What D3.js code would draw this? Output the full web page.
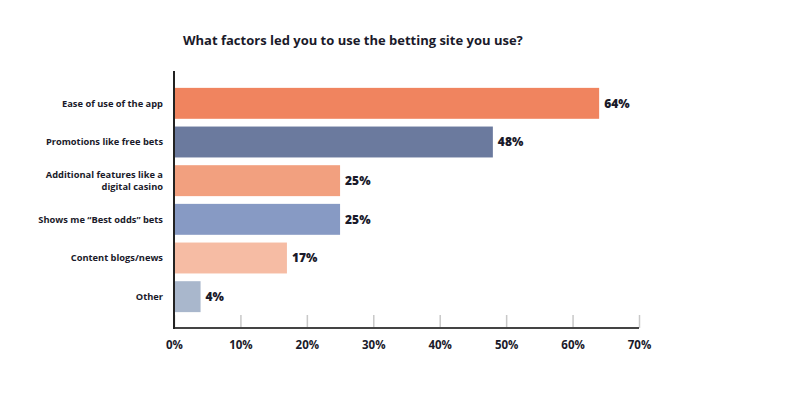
<!DOCTYPE html>
<html>
<head>
<meta charset="utf-8">
<script src="https://cdn.jsdelivr.net/npm/d3@7"></script>
<style>
  body { margin: 0; background: #fff; }
  text { font-family: "Open Sans", Lato, sans-serif; fill: #1a1a2a; }
</style>
</head>
<body>
<script>
// chart data
const categories = [
  "Ease of use of the app",
  "Promotions like free bets",
  "Additional features like a|digital casino",
  "Shows me \u201cBest odds\u201d bets",
  "Content blogs/news",
  "Other"
];
const values = [64, 48, 25, 25, 17, 4];
const barColors = ["#f0845f", "#6b7a9e", "#f2a07f", "#879ac4", "#f6bca4", "#a9b7cc"];
const xTicks = [0, 10, 20, 30, 40, 50, 60, 70];
const title = "What factors led you to use the betting site you use?";

const width = 801;
const height = 395;
const left = 174, right = 639, axisY = 328;

const svg = d3.select("body").append("svg")
  .attr("width", width)
  .attr("height", height);

const x = d3.scaleLinear().domain([0, 70]).range([left, right]);
const y = d3.scaleBand()
  .domain(categories)
  .range([84, 316])
  .paddingInner(0.2)
  .paddingOuter(0.1);

// title
svg.append("text")
  .attr("x", 183)
  .attr("y", 45)
  .attr("font-size", 13)
  .attr("font-weight", 700)
  .text(title);

// bars
svg.selectAll("rect.bar")
  .data(values)
  .enter().append("rect")
    .attr("class", "bar")
    .attr("x", x(0))
    .attr("y", (d, i) => y(categories[i]))
    .attr("width", d => x(d) - x(0))
    .attr("height", y.bandwidth())
    .attr("fill", (d, i) => barColors[i]);

// value labels
svg.selectAll("text.val")
  .data(values)
  .enter().append("text")
    .attr("class", "val")
    .attr("x", d => x(d) + 5)
    .attr("y", (d, i) => y(categories[i]) + y.bandwidth() / 2)
    .attr("dy", "0.35em")
    .attr("font-size", 12)
    .attr("font-weight", 800)
    .text(d => d + "%");

// category labels (| splits lines)
svg.selectAll("text.cat")
  .data(categories)
  .enter().append("text")
    .attr("class", "cat")
    .attr("text-anchor", "end")
    .attr("font-size", 9.3)
    .attr("font-weight", 700)
    .attr("x", 163)
    .each(function(d) {
      const lines = d.split("|");
      const cy = y(d) + y.bandwidth() / 2;
      const el = d3.select(this);
      lines.forEach((l, j) => {
        el.append("tspan")
          .attr("x", 163)
          .attr("y", cy + (j - (lines.length - 1) / 2) * 12)
          .attr("dy", "0.35em")
          .text(l);
      });
    });

// x axis: ticks pointing up
const xAxis = svg.append("g")
  .attr("transform", `translate(0,${axisY})`)
  .call(d3.axisBottom(x).tickValues(xTicks).tickSize(-13).tickFormat(d => d + "%"));
xAxis.select(".domain").remove();
xAxis.selectAll(".tick line").attr("stroke", "#c8c8c8").attr("stroke-width", 1.5);
xAxis.selectAll(".tick text")
  .attr("y", 13)
  .attr("font-size", 11.5)
  .attr("font-weight", 700)
  .attr("font-family", "'Open Sans', Lato, sans-serif")
  .attr("fill", "#1a1a2a");

// axis lines
svg.append("line")
  .attr("x1", left).attr("x2", right)
  .attr("y1", axisY).attr("y2", axisY)
  .attr("stroke", "#444").attr("stroke-width", 2);
svg.append("line")
  .attr("x1", left).attr("x2", left)
  .attr("y1", 71).attr("y2", axisY + 1)
  .attr("stroke", "#222").attr("stroke-width", 2);
</script>
</body>
</html>
